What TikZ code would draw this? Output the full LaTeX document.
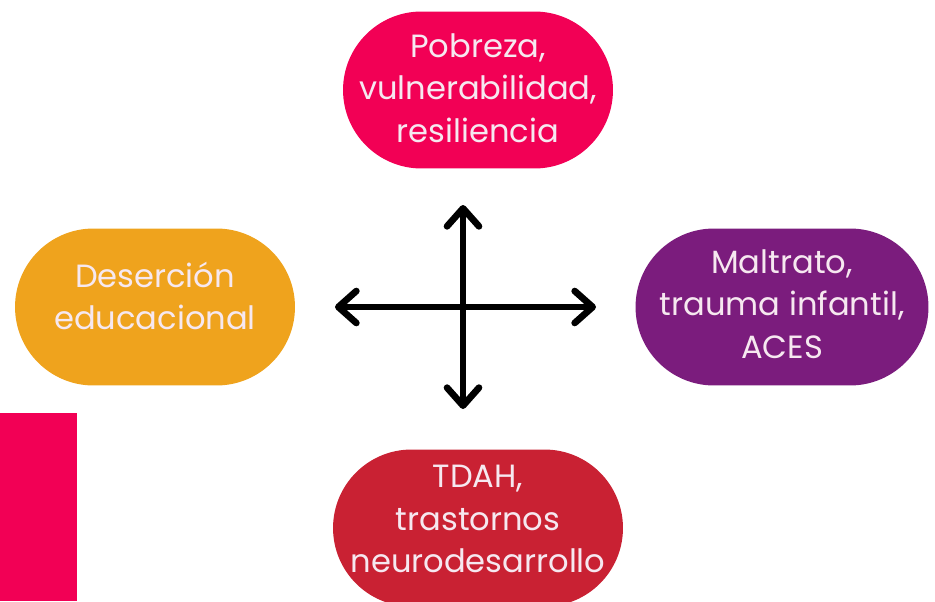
\documentclass[tikz,border=0pt]{standalone}
\usepackage{fontspec}
\setmainfont{Poppins}
\usepackage{xcolor}
\usetikzlibrary{arrows.meta,positioning}
\definecolor{rosa}{RGB}{242,0,85}
\definecolor{naranja}{RGB}{239,163,29}
\definecolor{morado}{RGB}{123,28,125}
\definecolor{rojo}{RGB}{201,33,51}
\definecolor{letra}{RGB}{246,232,240}
\tikzset{
	pastilla/.style={rectangle, rounded corners=1.57cm, minimum height=3.14cm, inner sep=0pt},
	texto/.style={text=letra, align=center, inner sep=0pt, font=\fontsize{18.3}{24.2}\selectfont},
	flecha/.style={line width=3.8pt, line cap=round, {Straight Barb[length=0.36cm,width=0.64cm,line join=round,line cap=round]}-{Straight Barb[length=0.36cm,width=0.64cm,line join=round,line cap=round]}}
}
\begin{document}
\begin{tikzpicture}[x=0.02cm,y=-0.02cm]
		%\draw[help lines] (0,0) grid (935,601);
		\useasboundingbox (0,0) rectangle (935,601);
		\fill[rosa] (0,413) rectangle (77,601);
		\node[pastilla, fill=rosa, minimum width=5.4cm] (pobreza) at (478,90) {};
		\node[pastilla, fill=naranja, minimum width=5.6cm] (desercion) at (155,307) {};
		\node[pastilla, fill=morado, minimum width=5.86cm] (maltrato) at (782,307) {};
		\node[pastilla, fill=rojo, minimum width=5.8cm] (tdah) at (478,528) {};
		\node[texto] (tpobreza) at ([yshift=0.04cm]pobreza.center) {Pobreza,\\vulnerabilidad,\\resiliencia};
		\node[texto] (tdesercion) at ([yshift=0.22cm]desercion.center) {Deserción\\educacional};
		\node[texto] (tmaltrato) at ([yshift=0.06cm]maltrato.center) {Maltrato,\\trauma infantil,\\ACES};
		\node[texto] (ttdah) at ([yshift=0.18cm]tdah.center) {TDAH,\\trastornos\\neurodesarrollo};
		% cruz de flechas
		\coordinate (izq) at (335,307);
		\coordinate (der) at (596,307);
		\coordinate (arr) at (463,205);
		\coordinate (aba) at (463,409);
		\draw[flecha] (izq) -- (der);
		\draw[flecha] (arr) -- (aba);
	\end{tikzpicture}
\end{document}
